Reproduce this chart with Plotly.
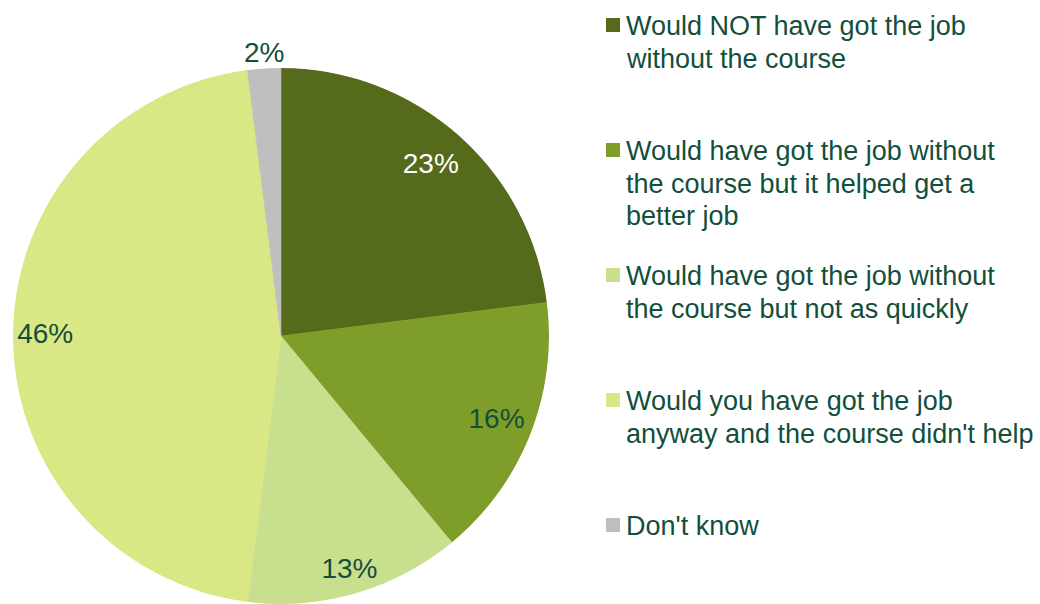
import plotly.graph_objects as go

# ---- data ----
categories = [
    "Would NOT have got the job<br>without the course",
    "Would have got the job without<br>the course but it helped get a<br>better job",
    "Would have got the job without<br>the course but not as quickly",
    "Would you have got the job<br>anyway and the course didn't help",
    "Don't know",
]
values = [23, 16, 13, 46, 2]
pct_labels = [f"{v}%" for v in values]

# ---- styles / positions ----
colors = ["#556A1B", "#7F9E29", "#C8E08E", "#D9E784", "#BFBFBF"]
label_colors = ["#FFFFFF", "#124F3C", "#124F3C", "#124F3C", "#124F3C"]
label_radius = [0.845, 0.865, 0.915, 0.88, 0.999]
label_pos = ["middle center"] * 4 + ["top center"]
text_color = "#124F3C"
FONT = "Liberation Sans, Arial, sans-serif"
W, H = 1040, 604

total = sum(values)
widths, mids = [], []
cum = 0.0
for v in values:
    w = v / total * 360.0
    widths.append(w)
    mids.append(cum + w / 2)
    cum += w

fig = go.Figure()
fig.add_trace(go.Barpolar(
    r=[1] * len(values),
    theta=mids,
    width=widths,
    marker=dict(color=colors, line=dict(color=colors, width=0.6)),
    hoverinfo="skip",
    showlegend=False,
))
fig.add_trace(go.Scatterpolar(
    r=label_radius,
    theta=mids,
    mode="text",
    text=pct_labels,
    textposition=label_pos,
    textfont=dict(family=FONT, size=28, color=label_colors),
    cliponaxis=False,
    hoverinfo="skip",
    showlegend=False,
))

cx0, cx1 = 13 / W, 549 / W
fig.update_layout(
    width=W, height=H,
    margin=dict(l=0, r=0, t=0, b=0),
    paper_bgcolor="white",
    showlegend=False,
    polar=dict(
        domain=dict(x=[cx0, cx1], y=[0, 536 / H]),
        bgcolor="rgba(0,0,0,0)",
        bargap=0,
        radialaxis=dict(range=[0, 1], visible=False, showgrid=False),
        angularaxis=dict(rotation=90, direction="clockwise", visible=False, showgrid=False),
    ),
)

annotations = []
shapes = []
LINE = 32.7
for i, (lab, col) in enumerate(zip(categories, colors)):
    for j, line in enumerate(lab.split("<br>")):
        top = 9 + 125 * i + LINE * j
        annotations.append(dict(
            x=624 / W, y=1 - top / H, xref="paper", yref="paper",
            xanchor="left", yanchor="top", align="left", showarrow=False,
            text=line, font=dict(family=FONT, size=27, color=text_color),
        ))
    sq = 18 + 125 * i
    shapes.append(dict(
        type="rect", xref="paper", yref="paper",
        x0=606 / W, x1=620 / W, y0=1 - sq / H, y1=1 - (sq + 14) / H,
        fillcolor=col, line=dict(width=0),
    ))
fig.update_layout(annotations=annotations, shapes=shapes)

fig.write_html("out.html")
